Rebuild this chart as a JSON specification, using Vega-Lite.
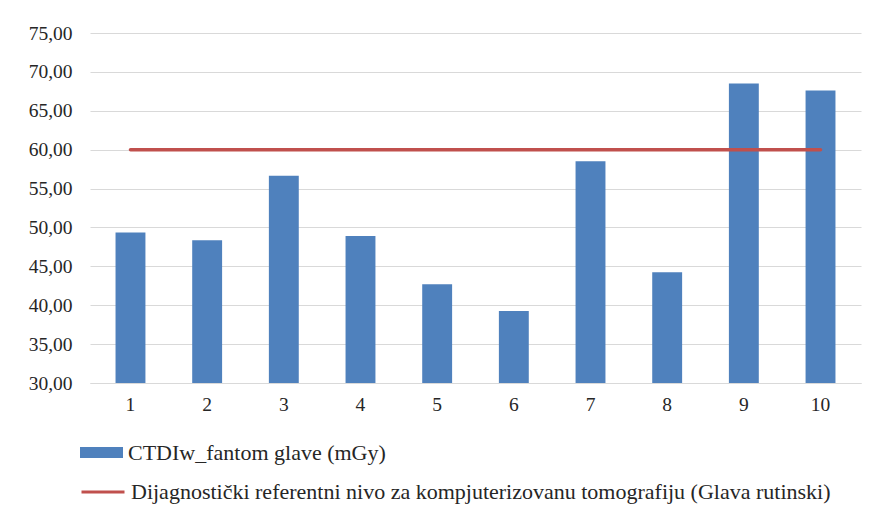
{
  "$schema": "https://vega.github.io/schema/vega-lite/v6.json",
  "autosize": "none",
  "width": 771,
  "height": 350,
  "padding": {"left": 90, "top": 33, "right": 15, "bottom": 132},
  "background": "white",
  "config": {
    "view": {"stroke": null},
    "font": "Liberation Serif, Times New Roman, serif",
    "axis": {"labelFont": "Liberation Serif, Times New Roman, serif", "labelFontSize": 19.5, "labelColor": "#262626"},
    "legend": {"labelFont": "Liberation Serif, Times New Roman, serif", "labelFontSize": 22, "labelColor": "#262626", "labelLimit": 0}
  },
  "data": {
    "values": [
      {"x": "1", "value": 49.35, "ref": 60},
      {"x": "2", "value": 48.35, "ref": 60},
      {"x": "3", "value": 56.65, "ref": 60},
      {"x": "4", "value": 48.9, "ref": 60},
      {"x": "5", "value": 42.7, "ref": 60},
      {"x": "6", "value": 39.25, "ref": 60},
      {"x": "7", "value": 58.5, "ref": 60},
      {"x": "8", "value": 44.25, "ref": 60},
      {"x": "9", "value": 68.5, "ref": 60},
      {"x": "10", "value": 67.6, "ref": 60}
    ]
  },
  "encoding": {
    "x": {
      "field": "x", "type": "ordinal", "sort": null,
      "scale": {"paddingInner": 0.61, "paddingOuter": 0.333},
      "axis": {"title": null, "labelAngle": 0, "ticks": false, "domain": true, "domainColor": "#d9d9d9", "domainWidth": 1, "labelPadding": 12, "grid": false}
    }
  },
  "layer": [
    {
      "mark": {"type": "bar", "color": "#4f81bd"},
      "encoding": {
        "y": {
          "field": "value", "type": "quantitative",
          "scale": {"domain": [30, 75], "nice": false, "zero": false},
          "axis": {
            "title": null, "values": [30, 35, 40, 45, 50, 55, 60, 65, 70, 75],
            "labelExpr": "replace(format(datum.value, '.2f'), '.', ',')",
            "labelOverlap": false, "labelBound": false, "labelFlush": false,
            "domain": false, "ticks": false, "labelPadding": 18,
            "grid": true, "gridColor": "#d9d9d9", "gridWidth": 1
          }
        },
        "y2": {"datum": 30},
        "fill": {
          "datum": "CTDIw_fantom glave (mGy)",
          "scale": {"range": ["#4f81bd"]},
          "legend": {
            "title": null, "orient": "none", "legendX": -10, "legendY": 398,
            "symbolType": "M-1,-0.256H1V0.256H-1Z", "symbolSize": 1849,
            "symbolStrokeWidth": 0, "labelOffset": 5, "padding": 0
          }
        }
      }
    },
    {
      "mark": {"type": "line", "strokeWidth": 3.5, "strokeCap": "round"},
      "encoding": {
        "y": {
          "field": "ref", "type": "quantitative",
          "scale": {"domain": [30, 75], "nice": false, "zero": false},
          "axis": {
            "title": null, "values": [30, 35, 40, 45, 50, 55, 60, 65, 70, 75],
            "labelExpr": "replace(format(datum.value, '.2f'), '.', ',')",
            "labelOverlap": false, "labelBound": false, "labelFlush": false,
            "domain": false, "ticks": false, "labelPadding": 18,
            "grid": true, "gridColor": "#d9d9d9", "gridWidth": 1
          }
        },
        "stroke": {
          "datum": "Dijagnostički referentni nivo za kompjuterizovanu tomografiju (Glava rutinski)",
          "scale": {"range": ["#c0504d"]},
          "legend": {
            "title": null, "orient": "none", "legendX": -10, "legendY": 436,
            "symbolType": "stroke", "symbolSize": 1849, "symbolStrokeWidth": 3,
            "labelOffset": 5, "padding": 0
          }
        }
      }
    }
  ]
}
